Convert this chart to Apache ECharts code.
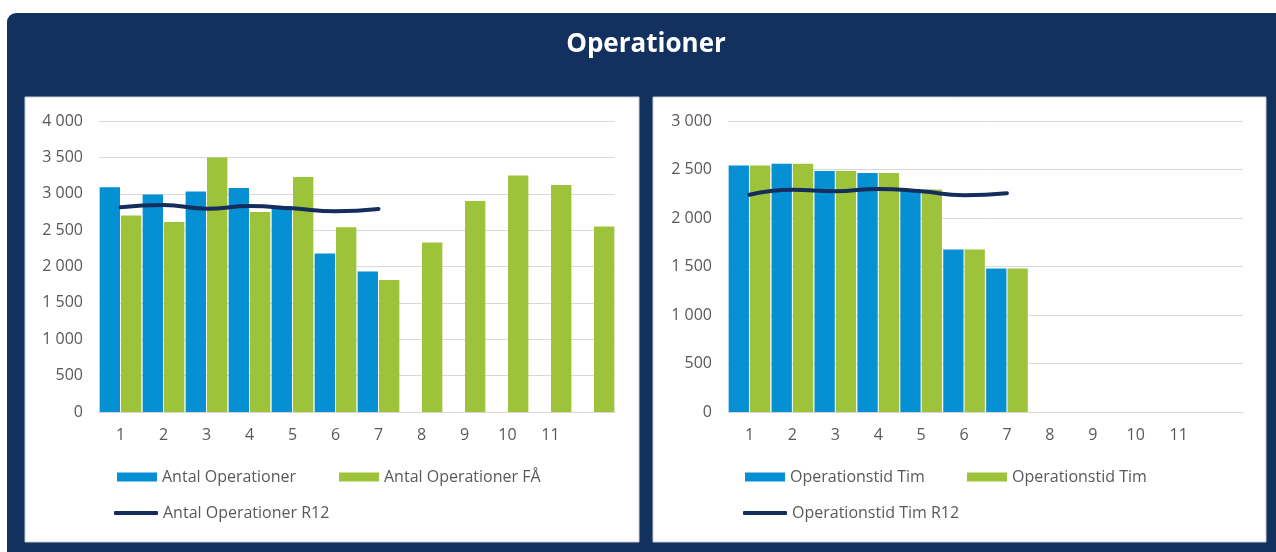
<!DOCTYPE html>
<html>
<head>
<meta charset="utf-8">
<script src="https://cdn.jsdelivr.net/npm/echarts@6/dist/echarts.min.js"></script>
<style>
  html, body { margin: 0; padding: 0; background: #ffffff; }
  #main { width: 1276px; height: 552px; }
</style>
</head>
<body>
<div id="main"></div>
<script>
// månader 1-12, sista saknar etikett
var categories = ["1", "2", "3", "4", "5", "6", "7", "8", "9", "10", "11", ""];

// vänster diagram
var antalOp = [3090, 2990, 3030, 3080, 2830, 2180, 1930, null, null, null, null, null];
var antalOpFA = [2700, 2610, 3500, 2750, 3230, 2540, 1815, 2330, 2900, 3250, 3120, 2550];
var antalOpR12 = [2815, 2845, 2795, 2830, 2800, 2760, 2790, null, null, null, null, null];

// höger diagram
var opTid = [2540, 2560, 2485, 2465, 2295, 1675, 1480, null, null, null, null, null];
var opTidFA = [2540, 2560, 2485, 2465, 2295, 1675, 1480, null, null, null, null, null];
var opTidR12 = [2240, 2290, 2275, 2300, 2275, 2235, 2255, null, null, null, null, null];

var blue = "#0690d4";
var green = "#9dc33b";
var navy = "#13315f";
var lineCol = "#142d5c";
var grey = "#595959";
var font = "Open Sans";

function fmt(v) {
  return String(v).replace(/\B(?=(\d{3})+(?!\d))/g, " ");
}

function xAxis(grid) {
  return {
    type: "category",
    gridIndex: grid,
    data: categories,
    axisLine: { lineStyle: { color: "#d9d9d9", width: 1 } },
    axisTick: { show: false },
    axisLabel: { color: grey, fontFamily: font, fontSize: 16, margin: 15 }
  };
}

function yAxis(grid, max) {
  return {
    type: "value",
    gridIndex: grid,
    min: 0,
    max: max,
    interval: 500,
    axisLine: { show: false },
    axisTick: { show: false },
    splitLine: { lineStyle: { color: "#d9d9d9", width: 1 } },
    axisLabel: { color: grey, fontFamily: font, fontSize: 16, margin: 16, formatter: fmt }
  };
}

function legend(name, left, top, isLine) {
  return {
    data: [name],
    left: left,
    top: top,
    padding: 0,
    icon: isLine ? "roundRect" : "rect",
    itemWidth: isLine ? 44 : 40,
    itemHeight: isLine ? 4 : 9,
    itemGap: 0,
    textStyle: { color: grey, fontFamily: font, fontSize: 16 },
    selectedMode: false
  };
}

function bar(name, data, color, grid) {
  return {
    name: name,
    type: "bar",
    xAxisIndex: grid,
    yAxisIndex: grid,
    data: data,
    barGap: "5%",
    barCategoryGap: "3%",
    itemStyle: { color: color },
    emphasis: { disabled: true }
  };
}

function line(name, data, grid) {
  return {
    name: name,
    type: "line",
    xAxisIndex: grid,
    yAxisIndex: grid,
    data: data,
    smooth: true,
    symbol: "none",
    lineStyle: { color: lineCol, width: 4, cap: "round" },
    itemStyle: { color: lineCol },
    emphasis: { disabled: true }
  };
}

var myChart = echarts.init(document.getElementById("main"));

var option = {
  animation: false,
  graphic: [
    { type: "rect", shape: { x: 7, y: 13, width: 1290, height: 560, r: [9, 0, 0, 0] }, style: { fill: navy }, z: -10 },
    { type: "rect", shape: { x: 25, y: 97, width: 614, height: 445 }, style: { fill: "#ffffff", stroke: "#c9ccd2", lineWidth: 1 }, z: -9 },
    { type: "rect", shape: { x: 653, y: 97, width: 613, height: 445 }, style: { fill: "#ffffff", stroke: "#c9ccd2", lineWidth: 1 }, z: -9 },
    {
      type: "text", x: 646, y: 45, z: -8,
      style: { text: "Operationer", fill: "#ffffff", font: "bold 26px 'Open Sans'", align: "center", verticalAlign: "middle" }
    }
  ],
  grid: [
    { left: 99, right: 661, top: 121, bottom: 140 },
    { left: 728, right: 33, top: 121, bottom: 140 }
  ],
  xAxis: [xAxis(0), xAxis(1)],
  yAxis: [yAxis(0, 4000), yAxis(1, 3000)],
  legend: [
    legend("Antal Operationer", 117, 469, false),
    legend("Antal Operationer FÅ", 339, 469, false),
    legend("Antal Operationer R12", 114, 505, true),
    legend("Operationstid Tim", 745, 469, false),
    legend("Operationstid Tim ", 967, 469, false),
    legend("Operationstid Tim R12", 743, 505, true)
  ],
  series: [
    bar("Antal Operationer", antalOp, blue, 0),
    bar("Antal Operationer FÅ", antalOpFA, green, 0),
    line("Antal Operationer R12", antalOpR12, 0),
    bar("Operationstid Tim", opTid, blue, 1),
    bar("Operationstid Tim ", opTidFA, green, 1),
    line("Operationstid Tim R12", opTidR12, 1)
  ]
};

myChart.setOption(option);
</script>
</body>
</html>
